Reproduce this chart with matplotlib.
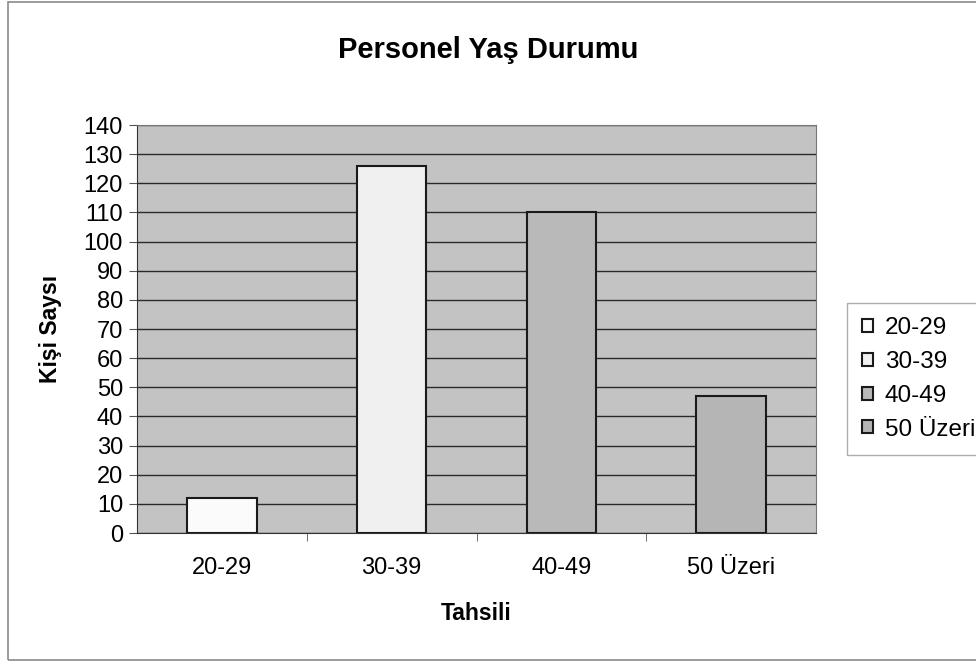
import numpy as np
import matplotlib.pyplot as plt
from matplotlib.patches import Rectangle

plt.rcParams['font.family'] = ['Liberation Sans', 'DejaVu Sans']

# Veri
kategoriler = ['20-29', '30-39', '40-49', '50 Üzeri']
kisi_sayisi = [12, 126, 110, 47]
renkler = ['#fbfbfb', '#f0f0f0', '#b9b9b9', '#b5b5b5']
y_ticks = list(range(0, 141, 10))

fig = plt.figure(figsize=(9.76, 6.65), dpi=100)
fig.patch.set_facecolor('white')

# dis cerceve
fig.patches.append(Rectangle((8 / 976, 1 - 660 / 665), 1.2, 658 / 665,
                             transform=fig.transFigure, fill=False,
                             edgecolor='#8a8a8a', linewidth=1.2))

ax = fig.add_axes([137 / 976, 1 - 533 / 665, 679 / 976, 408 / 665])
ax.set_facecolor('#c3c3c3')

x = np.arange(len(kategoriler))
bars = ax.bar(x, kisi_sayisi, width=0.41, color=renkler, edgecolor='#1a1a1a',
              linewidth=1.5, zorder=3)

ax.set_xlim(-0.5, len(kategoriler) - 0.5)
ax.set_ylim(0, 140)
ax.set_yticks(y_ticks)
ax.yaxis.grid(True, color='#2a2a2a', linewidth=1.0, zorder=1)
ax.set_axisbelow(True)

ax.set_xticks(x)
ax.set_xticklabels(kategoriler, fontsize=17)
ax.set_xticks(np.arange(0.5, len(kategoriler) - 0.5, 1), minor=True)
ax.tick_params(axis='x', which='major', length=0, pad=17)
ax.tick_params(axis='x', which='minor', length=6, direction='out', color='#555555')
ax.tick_params(axis='y', length=6, direction='out', labelsize=17, pad=4, color='#555555')

for s in ['top', 'right']:
    ax.spines[s].set_color('#777777')
    ax.spines[s].set_linewidth(0.8)
ax.spines['left'].set_color('#333333')
ax.spines['bottom'].set_color('#333333')

# basliklar
fig.text(0.5, 1 - 50 / 665, 'Personel Yaş Durumu', fontsize=21, fontweight='bold',
         ha='center', va='center')
ax.set_xlabel('Tahsili', fontsize=16.5, fontweight='bold', va='center')
ax.xaxis.set_label_coords(0.5, (533 - 613) / 408)
ax.set_ylabel('Kişi Saysı', fontsize=16.5, fontweight='bold', va='center')
ax.yaxis.set_label_coords((50 - 137) / 679, 0.5)

leg = fig.legend(bars, kategoriler, loc='center left',
                 bbox_to_anchor=(847 / 976, 1 - 379 / 665),
                 fontsize=17.5, frameon=True, fancybox=False,
                 handlelength=0.45, handleheight=0.45, handletextpad=0.5,
                 labelspacing=0.48, borderpad=0.6, borderaxespad=0)
leg.get_frame().set_edgecolor('#999999')
leg.get_frame().set_linewidth(1.0)

fig.savefig('out.png', dpi=100)
